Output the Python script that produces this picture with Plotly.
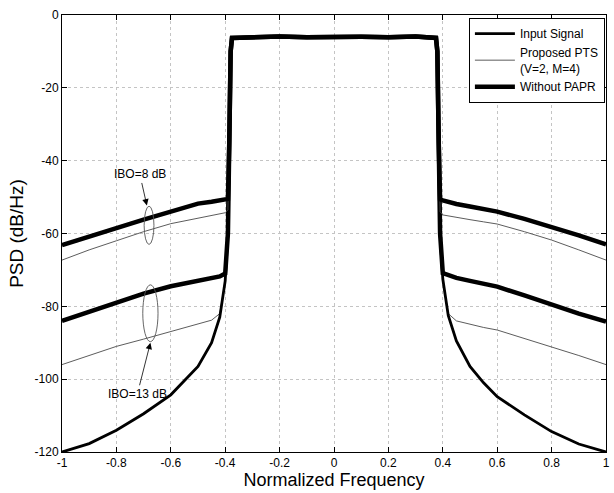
import plotly.graph_objects as go

# Normalized frequency grid (shared by all curves)
freq = [-1.0, -0.9, -0.8, -0.7, -0.6, -0.55, -0.5, -0.45, -0.42, -0.40, -0.39, -0.385, -0.38, -0.375,
        -0.3, -0.2, -0.1, 0.0, 0.1, 0.2, 0.3,
        0.375, 0.38, 0.385, 0.39, 0.40, 0.42, 0.45, 0.5, 0.55, 0.6, 0.7, 0.8, 0.9, 1.0]

inband = [-6.0, -5.9, -6.1, -5.9, -6.0, -6.1, -5.9]

input_signal = ([-120, -117.7, -114.0, -109.5, -104.3, -100.5, -96.5, -90.0, -83.0, -73.0, -60, -35, -10, -6.3]
                + inband
                + [-6.3, -10, -35, -60, -72.5, -82.5, -89.5, -96.5, -101, -104.8, -109.8, -114.4, -117.8, -120])

pts_ibo8 = ([-67.3, -64.5, -62.0, -59.5, -57.3, -56.5, -55.8, -55.0, -54.6, -54.3, -53.5, -35, -10, -6.3]
            + inband
            + [-6.3, -10, -35, -54.0, -54.9, -55.2, -55.6, -56.2, -56.8, -57.4, -59.5, -61.8, -64.5, -67.3])

pts_ibo13 = ([-96.0, -93.5, -91.0, -89.0, -87.0, -86.0, -85.0, -83.8, -82.0, -73.0, -60, -35, -10, -6.3]
             + inband
             + [-6.3, -10, -35, -60, -72.5, -82.0, -84.0, -85.0, -85.8, -86.5, -88.8, -91.0, -93.5, -96.0])

wo_ibo8 = ([-63.2, -61.0, -58.5, -56.2, -54.0, -52.8, -51.8, -51.3, -51.0, -50.7, -50.5, -35, -10, -6.3]
           + inband
           + [-6.3, -10, -35, -50.6, -50.9, -51.4, -51.9, -52.6, -53.2, -54.0, -56.0, -58.1, -60.5, -63.0])

wo_ibo13 = ([-84.0, -81.5, -79.0, -76.5, -74.5, -73.7, -73.0, -72.3, -71.8, -71.0, -60, -35, -10, -6.3]
            + inband
            + [-6.3, -10, -35, -60, -70.9, -71.5, -72.2, -73.0, -73.8, -74.6, -77.0, -79.6, -82.0, -84.2])

x_ticks = [-1, -0.8, -0.6, -0.4, -0.2, 0, 0.2, 0.4, 0.6, 0.8, 1]
x_ticklabels = ["-1", "-0.8", "-0.6", "-0.4", "-0.2", "0", "0.2", "0.4", "0.6", "0.8", "1"]
y_ticks = [0, -20, -40, -60, -80, -100, -120]
y_ticklabels = ["0", "-20", "-40", "-60", "-80", "-100", "-120"]

FONT = "Liberation Sans, Arial, sans-serif"

fig = go.Figure()
fig.add_trace(go.Scatter(x=freq, y=pts_ibo13, mode="lines", line=dict(color="#4a4a4a", width=0.9),
                         name="Proposed PTS<br>(V=2, M=4)", legendgroup="pts", showlegend=False))
fig.add_trace(go.Scatter(x=freq, y=wo_ibo13, mode="lines", line=dict(color="black", width=4.5),
                         name="Without PAPR", legendgroup="wo", showlegend=False))
fig.add_trace(go.Scatter(x=freq, y=input_signal, mode="lines", line=dict(color="black", width=2.8),
                         name="Input Signal", legendgroup="in", legendrank=1))
fig.add_trace(go.Scatter(x=freq, y=pts_ibo8, mode="lines", line=dict(color="#4a4a4a", width=0.9),
                         name="Proposed PTS<br>(V=2, M=4)", legendgroup="pts", legendrank=2))
fig.add_trace(go.Scatter(x=freq, y=wo_ibo8, mode="lines", line=dict(color="black", width=4.5),
                         name="Without PAPR", legendgroup="wo", legendrank=3))

axis_common = dict(showline=True, linecolor="black", linewidth=1, mirror="ticks",
                   ticks="inside", ticklen=5, tickcolor="black",
                   showgrid=True, gridcolor="#c4c4c4", griddash="dot", gridwidth=1,
                   zeroline=False, tickfont=dict(family=FONT, size=12, color="black"))

fig.update_xaxes(range=[-1, 1], tickvals=x_ticks, ticktext=x_ticklabels,
                 title=dict(text="Normalized Frequency", font=dict(family=FONT, size=18, color="black"),
                            standoff=1), **axis_common)
fig.update_yaxes(range=[-120, 0], tickvals=y_ticks, ticktext=y_ticklabels,
                 title=dict(text="PSD (dB/Hz)", font=dict(family=FONT, size=19, color="black"),
                            standoff=5), **axis_common)

# ellipses
fig.add_shape(type="circle", xref="x", yref="y", x0=-0.698, x1=-0.662, y0=-63.0, y1=-52.5,
              line=dict(color="#555555", width=0.9))
fig.add_shape(type="circle", xref="x", yref="y", x0=-0.703, x1=-0.647, y0=-89.7, y1=-74.1,
              line=dict(color="#555555", width=0.9))

fig.add_annotation(x=-0.688, y=-52.3, xref="x", yref="y", text="IBO=8 dB", showarrow=True,
                   arrowhead=2, arrowsize=1.6, arrowwidth=0.8, arrowcolor="black",
                   ax=-7, ay=-31, font=dict(family=FONT, size=12, color="black"))
fig.add_annotation(x=-0.675, y=-90.0, xref="x", yref="y", text="IBO=13 dB", showarrow=True,
                   arrowhead=2, arrowsize=1.6, arrowwidth=0.8, arrowcolor="black",
                   ax=-13, ay=51, font=dict(family=FONT, size=12, color="black"))

fig.update_layout(
    width=614, height=493,
    margin=dict(l=62, r=4, t=15, b=41),
    paper_bgcolor="white", plot_bgcolor="white",
    showlegend=True,
    legend=dict(x=0.998, y=0.993, xanchor="right", yanchor="top",
                bgcolor="white", bordercolor="black", borderwidth=1,
                font=dict(family=FONT, size=12, color="black"),
                traceorder="normal", tracegroupgap=0, itemwidth=40),
)

fig.write_html("out.html", config={"displayModeBar": False},
               post_script="document.body.style.margin='0';document.body.style.overflow='hidden';")
